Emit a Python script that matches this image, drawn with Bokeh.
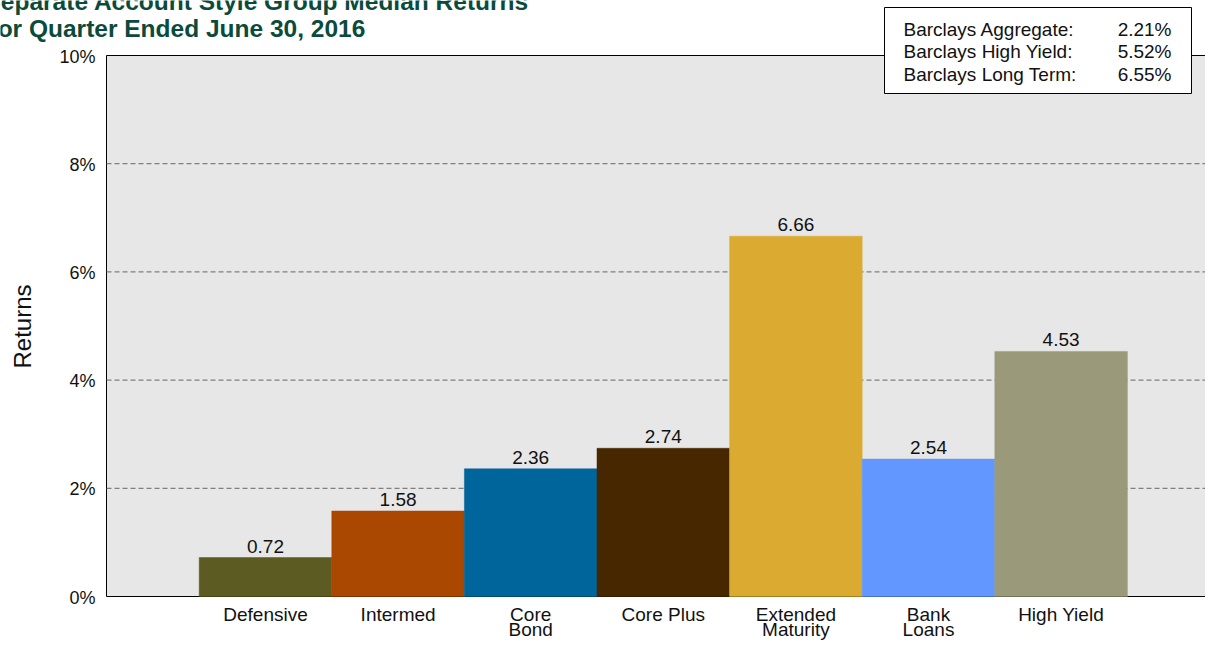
import math
from bokeh.plotting import figure
from bokeh.models import Range1d, LabelSet, ColumnDataSource
from bokeh.embed import file_html
from bokeh.resources import INLINE
from bokeh.core.properties import value

# ---------------- data ----------------
categories = ["Defensive", "Intermed", "Core\nBond", "Core Plus",
              "Extended\nMaturity", "Bank\nLoans", "High Yield"]
returns = [0.72, 1.58, 2.36, 2.74, 6.66, 2.54, 4.53]
bar_colors = ["#5c5b21", "#aa4700", "#00659b", "#472700",
              "#dbab31", "#6197ff", "#9a9a7a"]
y_ticks = [0, 2, 4, 6, 8, 10]
grid_ticks = [2, 4, 6, 8]
index_names = ["Barclays Aggregate:", "Barclays High Yield:", "Barclays Long Term:"]
index_returns = [2.21, 5.52, 6.55]
title_lines = ["Separate Account Style Group Median Returns",
               "for Quarter Ended June 30, 2016"]
y_label = "Returns"

# ---------------- layout (pixels on the canvas) ----------------
W, H = 1205, 640
X0_PX, X_STEP = 265.0, 132.6      # canvas x of first category centre, px per category
Y0_PX, Y_STEP = 596.0, 54.1       # canvas y of value 0, px per unit


def dx(px):
    return (px - X0_PX) / X_STEP


def dy(py):
    return (Y0_PX - py) / Y_STEP


FONT = "Liberation Sans"
TXT = "#111111"

# the frame covers the whole canvas so that no text is clipped
p = figure(width=W, height=H, output_backend="svg", toolbar_location=None,
           x_range=Range1d(dx(0), dx(W)), y_range=Range1d(dy(H), dy(0)),
           min_border_left=0, min_border_right=0, min_border_top=0,
           min_border_bottom=0)
p.outline_line_color = None
p.background_fill_color = "white"
p.border_fill_color = "white"
p.xgrid.visible = False
p.ygrid.visible = False
p.xaxis.visible = False
p.yaxis.visible = False

xs = list(range(len(categories)))


def labels(x, y, text, align="left", size="19px", color=TXT, style="normal",
           y_offset=0, angle=0.0):
    src = ColumnDataSource(dict(x=x, y=y, t=text))
    p.add_layout(LabelSet(x="x", y="y", text="t", source=src, y_offset=y_offset,
                          angle=value(angle), text_align=align,
                          text_baseline="alphabetic",
                          text_font=value(FONT), text_font_size=value(size),
                          text_font_style=value(style), text_color=value(color)))


# plot-area background with black border (right edge runs off the page)
p.quad(left=[dx(106)], right=[dx(W) + 2], bottom=[0], top=[y_ticks[-1]],
       fill_color="#e7e7e7", line_color="black", line_width=1)

# dashed grid lines
p.segment(x0=[dx(106)] * len(grid_ticks), x1=[dx(W) + 2] * len(grid_ticks),
          y0=grid_ticks, y1=grid_ticks, line_color="#666666", line_width=1,
          line_dash="5 3")

# bars
p.vbar(x=xs, top=returns, bottom=0, width=1.0, fill_color=bar_colors,
       line_color=bar_colors, line_width=0.5)

# value labels above the bars
labels(xs, returns, [f"{v:.2f}" for v in returns], align="center", y_offset=5)

# category labels (one or two lines each) under the bars
first_lines = [c.split("\n")[0] for c in categories]
second_lines = [c.split("\n")[1] if "\n" in c else "" for c in categories]
labels(xs, [dy(620)] * len(xs), first_lines, align="center")
labels(xs, [dy(635)] * len(xs), second_lines, align="center")

# y tick labels
labels([dx(95)] * len(y_ticks), y_ticks, [f"{t}%" for t in y_ticks],
       align="right", size="18px", y_offset=-7)

# y-axis title
labels([dx(30)], [dy(326)], [y_label], align="center", size="24px",
       angle=math.pi / 2)

# index-returns box
p.quad(left=[dx(884)], right=[dx(1191)], top=[dy(7)], bottom=[dy(93)],
       fill_color="white", line_color="black", line_width=1)
row_y = [dy(35), dy(57.5), dy(80)]
labels([dx(903)] * 3, row_y, index_names, align="left")
labels([dx(1171)] * 3, row_y, [f"{v:.2f}%" for v in index_returns], align="right")

# chart title (runs off the left edge, as in the original)
labels([dx(-16), dx(-11)], [dy(9.5), dy(36.5)], title_lines, align="left",
       size="24.5px", color="#0b4b3b", style="bold")

open("out.html", "w").write(file_html(p, INLINE))
